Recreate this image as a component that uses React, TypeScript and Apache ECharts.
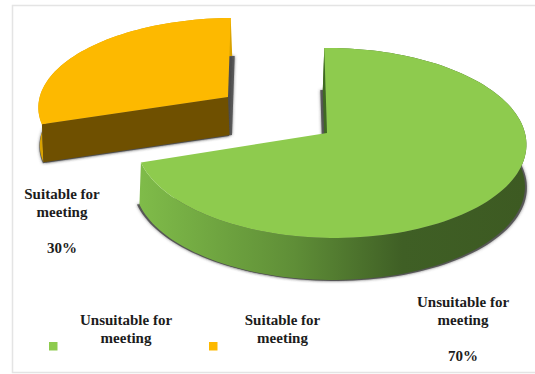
import React, { useEffect, useRef } from "react";
import * as echarts from "echarts";

const categories = ["Unsuitable for\nmeeting", "Suitable for\nmeeting"];
const shares = [70, 30];
const topColors = ["#8ecb4e", "#fdb900"];
const cutColors = ["#3f6a22", "#6f5000"];
const FONT = '"Liberation Serif", serif';

// Per-slice placement of the tilted, exploded wedges.
const slicePlacement = [
  { cx: 327, cy: 133, sx: 1, sy: 1, skew: -3, depth: 42, wallDx: -1.5, shadows: [[-4, 42], [0.5, 43]], labelX: 463, labelY: 302 },
  { cx: 228, cy: 97, sx: 0.99, sy: 0.93, skew: 3, depth: 38, wallDx: 1.5, shadows: [[4, 38], [1, 39]], labelX: 62, labelY: 194 },
];

const RX = 194;
const RY = 93.9;
const PERSP_V = 0.105;
const PERSP_U = -0.02;

function project(p: (typeof slicePlacement)[number], deg: number): [number, number] {
  const a = (deg * Math.PI) / 180;
  const u = Math.sin(a);
  const v = Math.cos(a);
  const d = 1 + PERSP_V * v + PERSP_U * u;
  return [p.cx + (RX * p.sx * u + p.skew * v) / d, p.cy - (RY * p.sy * v) / d];
}

const total = shares.reduce((s, v) => s + v, 0);

function renderSlice(params: any, api: any) {
  const i = params.dataIndex;
  const p = slicePlacement[i];
  const before = shares.slice(0, i).reduce((s, v) => s + v, 0);
  const start = (before / total) * 360;
  const end = ((before + api.value(0)) / total) * 360;

  const rim: [number, number][] = [];
  for (let t = start; t < end; t += 2) rim.push(project(p, t));
  rim.push(project(p, end));

  const shift = (pts: [number, number][], dx: number, dy: number) =>
    pts.map(([x, y]) => [x + dx, y + dy] as [number, number]);

  const apex: [number, number] = [p.cx, p.cy];
  const face = [apex, ...rim];
  const children: any[] = [];

  // Soft grey cast shadow: the wedge outline dropped to the underside.
  p.shadows.forEach(([dx, dy]) => {
    children.push({
      type: "polygon",
      shape: { points: shift(face, dx, dy) },
      style: { fill: "rgba(75,75,75,0.85)", shadowBlur: 3, shadowColor: "rgba(70,70,70,0.8)" },
    });
  });

  const wallFill =
    i === 0
      ? new echarts.graphic.LinearGradient(
          141, 0, 525, 0,
          [
            { offset: 0, color: "#7fbb49" },
            { offset: 0.4, color: "#5f8e37" },
            { offset: 0.68, color: "#3f5f25" },
            { offset: 1, color: "#3d5a22" },
          ],
          true
        )
      : "#d9a200";
  children.push({
    type: "polygon",
    shape: { points: [...rim, ...shift(rim, p.wallDx, p.depth).reverse()] },
    style: { fill: wallFill },
  });

  // Cut face: the wall along the radial edge that looks toward the viewer or the gap.
  const edge: [number, number][] = [rim[0], apex];
  children.push({
    type: "polygon",
    shape: { points: [...edge, ...shift(edge, p.wallDx, p.depth).reverse()] },
    style: { fill: cutColors[i] },
  });

  children.push({ type: "polygon", shape: { points: face }, style: { fill: topColors[i] } });

  children.push({
    type: "text",
    style: {
      x: p.labelX,
      y: p.labelY - 9,
      text: `${categories[i]}\n\n${api.value(0)}%`,
      font: `bold 15px ${FONT}`,
      fill: "#1c1c1c",
      align: "center",
      verticalAlign: "top",
      lineHeight: 18,
    },
  });

  return { type: "group", children };
}

// Draw the rear wedge first so the larger one overlaps it.
const drawOrder = [1, 0];

export default function App() {
  const ref = useRef<HTMLDivElement>(null);

  useEffect(() => {
    const chart = echarts.init(ref.current!, undefined, { renderer: "svg" });
    const legendX = [49, 209];
    const legendTextX = [126, 282.5];
    chart.setOption({
      animation: false,
      backgroundColor: "#ffffff",
      graphic: [
        {
          type: "polyline",
          silent: true,
          shape: { points: [[545, 5.5], [12.5, 5.5], [12.5, 372.5], [545, 372.5]] },
          style: { stroke: "#e4e4e4", lineWidth: 1.5, fill: "none" },
        },
        ...categories.flatMap((c, i) => [
          {
            type: "rect",
            shape: { x: legendX[i], y: 342, width: 8.5, height: 8.5 },
            style: { fill: topColors[i] },
          },
          {
            type: "text",
            style: {
              x: legendTextX[i],
              y: 311,
              text: c,
              font: `bold 15px ${FONT}`,
              fill: "#1c1c1c",
              align: "center",
              verticalAlign: "top",
              lineHeight: 18,
            },
          },
        ]),
      ],
      series: drawOrder.map((idx) => ({
        type: "custom",
        coordinateSystem: "none",
        silent: true,
        data: shares.map((v, i) => (i === idx ? [v] : [null])),
        renderItem: (params: any, api: any) =>
          params.dataIndex === idx ? renderSlice(params, api) : { type: "group", children: [] },
      })),
    });
    return () => chart.dispose();
  }, []);

  return <div ref={ref} style={{ position: "absolute", left: 0, top: 0, width: 535, height: 374 }} />;
}
